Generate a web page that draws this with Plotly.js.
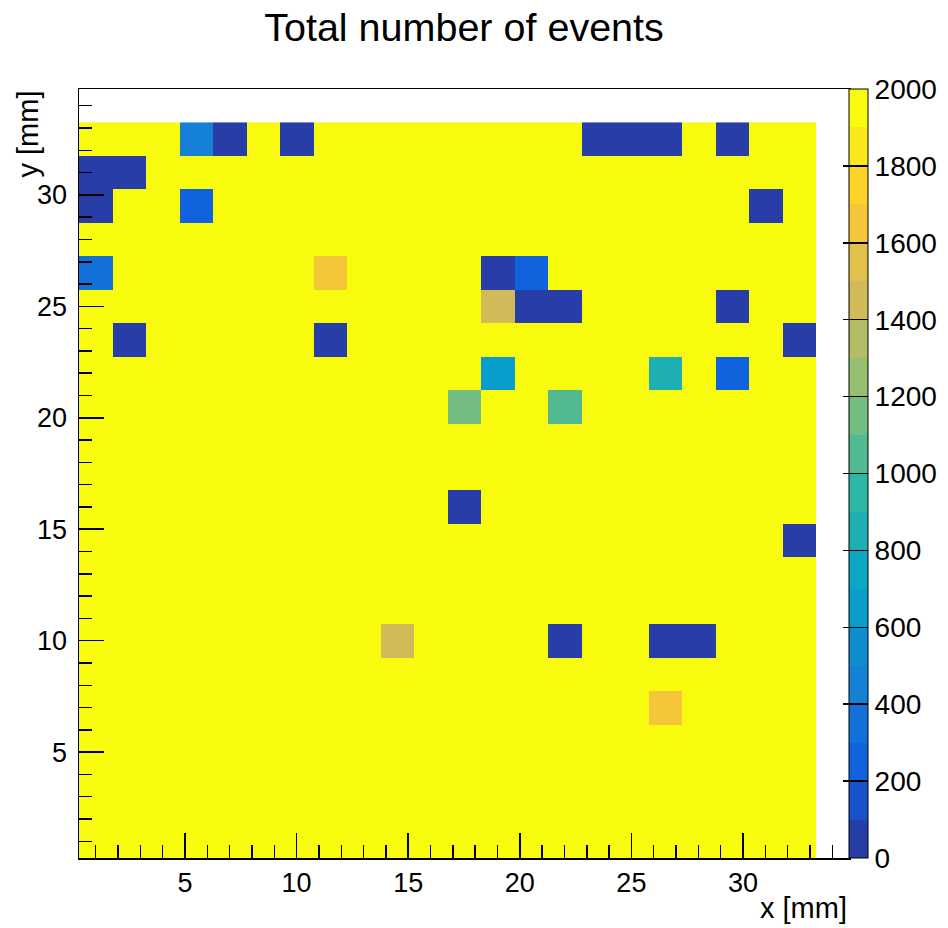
<!DOCTYPE html>
<html>
<head>
<meta charset="utf-8">
<script src="https://cdn.plot.ly/plotly-3.0.1.min.js"></script>
<style>
  html, body { margin: 0; padding: 0; background: #ffffff; }
  #chart { width: 948px; height: 928px; }
</style>
</head>
<body>
<div id="chart"></div>
<script>
// Pixel centres in mm (1.5 mm pitch)
const xCenters = [1, 2.5, 4, 5.5, 7, 8.5, 10, 11.5, 13, 14.5, 16, 17.5, 19, 20.5, 22, 23.5, 25, 26.5, 28, 29.5, 31, 32.5];
const yCentersTopDown = [32.5, 31, 29.5, 28, 26.5, 25, 23.5, 22, 20.5, 19, 17.5, 16, 14.5, 13, 11.5, 10, 8.5, 7, 5.5, 4, 2.5, 1];

// Event counts per pixel, rows listed from the top (y = 32.5) to the bottom (y = 1)
const countsTopDown = [
  [2000, 2000, 2000,  430,   50, 2000,   50, 2000, 2000, 2000, 2000, 2000, 2000, 2000, 2000,   50,   50,   50, 2000,   50, 2000, 2000],
  [  50,   50, 2000, 2000, 2000, 2000, 2000, 2000, 2000, 2000, 2000, 2000, 2000, 2000, 2000, 2000, 2000, 2000, 2000, 2000, 2000, 2000],
  [  50, 2000, 2000,  240, 2000, 2000, 2000, 2000, 2000, 2000, 2000, 2000, 2000, 2000, 2000, 2000, 2000, 2000, 2000, 2000,   50, 2000],
  [2000, 2000, 2000, 2000, 2000, 2000, 2000, 2000, 2000, 2000, 2000, 2000, 2000, 2000, 2000, 2000, 2000, 2000, 2000, 2000, 2000, 2000],
  [ 370, 2000, 2000, 2000, 2000, 2000, 2000, 1660, 2000, 2000, 2000, 2000,   50,  220, 2000, 2000, 2000, 2000, 2000, 2000, 2000, 2000],
  [2000, 2000, 2000, 2000, 2000, 2000, 2000, 2000, 2000, 2000, 2000, 2000, 1470,   50,   50, 2000, 2000, 2000, 2000,   50, 2000, 2000],
  [2000,   50, 2000, 2000, 2000, 2000, 2000,   50, 2000, 2000, 2000, 2000, 2000, 2000, 2000, 2000, 2000, 2000, 2000, 2000, 2000,   50],
  [2000, 2000, 2000, 2000, 2000, 2000, 2000, 2000, 2000, 2000, 2000, 2000,  650, 2000, 2000, 2000, 2000,  820, 2000,  260, 2000, 2000],
  [2000, 2000, 2000, 2000, 2000, 2000, 2000, 2000, 2000, 2000, 2000, 1150, 2000, 2000, 1050, 2000, 2000, 2000, 2000, 2000, 2000, 2000],
  [2000, 2000, 2000, 2000, 2000, 2000, 2000, 2000, 2000, 2000, 2000, 2000, 2000, 2000, 2000, 2000, 2000, 2000, 2000, 2000, 2000, 2000],
  [2000, 2000, 2000, 2000, 2000, 2000, 2000, 2000, 2000, 2000, 2000, 2000, 2000, 2000, 2000, 2000, 2000, 2000, 2000, 2000, 2000, 2000],
  [2000, 2000, 2000, 2000, 2000, 2000, 2000, 2000, 2000, 2000, 2000,   50, 2000, 2000, 2000, 2000, 2000, 2000, 2000, 2000, 2000, 2000],
  [2000, 2000, 2000, 2000, 2000, 2000, 2000, 2000, 2000, 2000, 2000, 2000, 2000, 2000, 2000, 2000, 2000, 2000, 2000, 2000, 2000,   50],
  [2000, 2000, 2000, 2000, 2000, 2000, 2000, 2000, 2000, 2000, 2000, 2000, 2000, 2000, 2000, 2000, 2000, 2000, 2000, 2000, 2000, 2000],
  [2000, 2000, 2000, 2000, 2000, 2000, 2000, 2000, 2000, 2000, 2000, 2000, 2000, 2000, 2000, 2000, 2000, 2000, 2000, 2000, 2000, 2000],
  [2000, 2000, 2000, 2000, 2000, 2000, 2000, 2000, 2000, 1430, 2000, 2000, 2000, 2000,   50, 2000, 2000,   50,   50, 2000, 2000, 2000],
  [2000, 2000, 2000, 2000, 2000, 2000, 2000, 2000, 2000, 2000, 2000, 2000, 2000, 2000, 2000, 2000, 2000, 2000, 2000, 2000, 2000, 2000],
  [2000, 2000, 2000, 2000, 2000, 2000, 2000, 2000, 2000, 2000, 2000, 2000, 2000, 2000, 2000, 2000, 2000, 1620, 2000, 2000, 2000, 2000],
  [2000, 2000, 2000, 2000, 2000, 2000, 2000, 2000, 2000, 2000, 2000, 2000, 2000, 2000, 2000, 2000, 2000, 2000, 2000, 2000, 2000, 2000],
  [2000, 2000, 2000, 2000, 2000, 2000, 2000, 2000, 2000, 2000, 2000, 2000, 2000, 2000, 2000, 2000, 2000, 2000, 2000, 2000, 2000, 2000],
  [2000, 2000, 2000, 2000, 2000, 2000, 2000, 2000, 2000, 2000, 2000, 2000, 2000, 2000, 2000, 2000, 2000, 2000, 2000, 2000, 2000, 2000],
  [2000, 2000, 2000, 2000, 2000, 2000, 2000, 2000, 2000, 2000, 2000, 2000, 2000, 2000, 2000, 2000, 2000, 2000, 2000, 2000, 2000, 2000]
];

const colorTicks = [0, 200, 400, 600, 800, 1000, 1200, 1400, 1600, 1800, 2000];

// "Bird" palette stops, sampled into 20 discrete contour bands
const birdStops = [0, 0.125, 0.25, 0.375, 0.5, 0.625, 0.75, 0.875, 1];
const birdR = [0.2082, 0.0592, 0.0780, 0.0232, 0.1802, 0.5301, 0.8186, 0.9956, 0.9764];
const birdG = [0.1664, 0.3599, 0.5041, 0.6419, 0.7178, 0.7492, 0.7328, 0.7862, 0.9832];
const birdB = [0.5293, 0.8684, 0.8385, 0.7914, 0.6425, 0.4662, 0.3499, 0.1968, 0.0539];

function birdColor(f) {
  let i = 0;
  while (i < birdStops.length - 2 && f > birdStops[i + 1]) i++;
  const t = (f - birdStops[i]) / (birdStops[i + 1] - birdStops[i]);
  const c = (arr) => Math.round(255 * (arr[i] + t * (arr[i + 1] - arr[i])));
  return `rgb(${c(birdR)},${c(birdG)},${c(birdB)})`;
}

const nBands = 20;
const colorscale = [];
for (let k = 0; k < nBands; k++) {
  const idx = Math.floor((k + 0.99) * 255 / nBands);
  const col = birdColor(idx / 254);
  colorscale.push([k / nBands, col]);
  colorscale.push([(k + 1) / nBands, col]);
}

const font = 'Liberation Sans, Arial, Helvetica, sans-serif';

const trace = {
  type: 'heatmap',
  x: xCenters,
  y: yCentersTopDown.slice().reverse(),
  z: countsTopDown.slice().reverse(),
  zmin: 0,
  zmax: 2000,
  zsmooth: false,
  colorscale: colorscale,
  hoverinfo: 'x+y+z',
  colorbar: {
    x: 1, xref: 'paper', xanchor: 'left', xpad: 0,
    y: 0.5, yanchor: 'middle', ypad: 0,
    len: 1, lenmode: 'fraction',
    thickness: 19,
    outlinewidth: 1, outlinecolor: '#000',
    tickmode: 'array', tickvals: colorTicks, ticktext: colorTicks.map(String),
    ticks: 'inside', ticklen: 25, tickwidth: 1.5, tickcolor: '#000',
    ticklabelstandoff: 3,
    tickfont: { family: font, size: 28, color: '#000' }
  }
};

const axisCommon = {
  range: [0.25, 34.75],
  tickmode: 'linear', tick0: 0, dtick: 5,
  ticks: 'inside', ticklen: 25, tickwidth: 1.5, tickcolor: '#000',
  minor: { ticks: 'inside', ticklen: 13, tickwidth: 1.5, tickcolor: '#000', dtick: 1, tick0: 0, showgrid: false },
  showline: true, linecolor: '#000', linewidth: 1.5, mirror: true,
  showgrid: false, zeroline: false,
  tickfont: { family: font, size: 27, color: '#000' },
  fixedrange: true
};

const layout = {
  width: 948, height: 928,
  margin: { l: 79, r: 99, t: 89, b: 70, autoexpand: false },
  paper_bgcolor: '#ffffff', plot_bgcolor: '#ffffff',
  font: { family: font, color: '#000' },
  title: {
    text: 'Total number of events',
    font: { family: font, size: 39.5, color: '#000' },
    x: 0.5, xref: 'paper', xanchor: 'center',
    y: 1 - 27 / 928, yref: 'container', yanchor: 'middle'
  },
  xaxis: Object.assign({}, axisCommon, { ticklabelstandoff: 0 }),
  yaxis: Object.assign({}, axisCommon, { ticklabelstandoff: 5 }),
  annotations: [
    {
      text: 'x [mm]', showarrow: false,
      xref: 'paper', yref: 'paper', x: 1, xanchor: 'right',
      y: -(908 - 857.7) / 769, yanchor: 'middle',
      font: { family: font, size: 29, color: '#000' }
    },
    {
      text: 'y [mm]', showarrow: false, textangle: -90,
      xref: 'paper', yref: 'paper', x: (27 - 79) / 770, xanchor: 'center',
      y: 1, yanchor: 'top',
      font: { family: font, size: 29, color: '#000' }
    }
  ],
  showlegend: false
};

Plotly.newPlot('chart', [trace], layout, { displayModeBar: false, staticPlot: true });
</script>
</body>
</html>
